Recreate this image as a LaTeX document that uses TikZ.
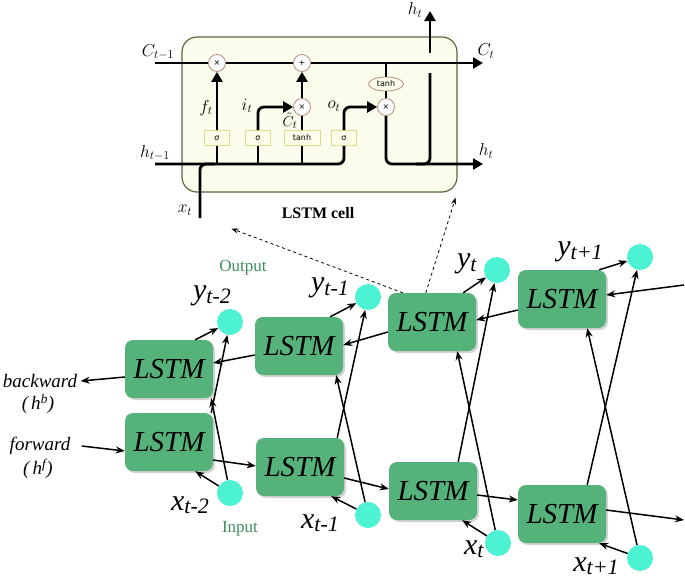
\documentclass[tikz,border=0pt]{standalone}
\usepackage{fontspec}
\setmainfont{Liberation Serif}
\newfontfamily\gatefont{DejaVu Sans}
\usetikzlibrary{arrows.meta, positioning, shapes.geometric, calc, shadows}
\definecolor{lstmcol}{HTML}{54B27A}
\definecolor{iocol}{HTML}{4CF2D2}
\definecolor{iotext}{HTML}{3E8E62}
\definecolor{cellfill}{HTML}{FCFCEC}
\definecolor{celldraw}{HTML}{56683C}
\definecolor{gatedraw}{HTML}{D8DC8C}
\definecolor{gatefill}{HTML}{FDFDEA}
\definecolor{opdraw}{HTML}{B48C7E}

\newcommand{\seqlab}[2]{\textit{#1}\raisebox{-0.25ex}{\fontsize{22}{22}\selectfont\textit{#2}}}

\begin{document}
\begin{tikzpicture}[
    x=1pt, y=-1pt,
    >={Stealth[length=9pt, width=7pt]},
    lstm/.style={
        fill=lstmcol, rounded corners=8pt, minimum width=88pt, minimum height=58pt,
        font=\fontsize{29}{30}\selectfont\itshape,
        drop shadow={shadow xshift=2pt, shadow yshift=-2pt, opacity=0.35}
    },
    iodot/.style={circle, fill=iocol, minimum size=26pt, inner sep=0pt},
    seq/.style={font=\fontsize{30}{32}\selectfont, inner sep=0pt},
    iolab/.style={font=\fontsize{17}{17}\selectfont, text=iotext},
    dirlab/.style={font=\fontsize{19}{19}\selectfont\itshape},
    link/.style={->, line width=1.5pt},
    zoomlink/.style={-{Stealth[length=7pt, width=5pt]}, dashed, line width=0.8pt},
    gate/.style={
        draw=gatedraw, fill=gatefill, line width=0.8pt, minimum width=25pt,
        minimum height=15pt, inner sep=0pt, font=\gatefont\fontsize{8}{8}\selectfont
    },
    op/.style={
        circle, draw=opdraw, fill=white, line width=0.8pt, minimum size=17pt,
        inner sep=0pt, font=\gatefont\fontsize{8}{8}\selectfont
    },
    flow/.style={line width=2.8pt, rounded corners=6pt},
    flowarr/.style={flow, -{Triangle[length=10pt, width=11pt]}},
    cellmath/.style={font=\fontsize{18}{18}\selectfont, inner sep=1pt},
]
\useasboundingbox (0,0) rectangle (685,582);

% ── LSTM cell ──
\node[draw=celldraw, fill=cellfill, line width=1.2pt, rounded corners=15pt,
      minimum width=275pt, minimum height=155pt] (cell) at (319.5,114.5) {};

\node[op] (mulf) at (217,63)  {×};
\node[op] (addc) at (302,63)  {+};
\node[op] (muli) at (302,107) {×};
\node[op] (mulo) at (386,107) {×};
\node[ellipse, draw=opdraw, fill=cellfill, line width=0.8pt, minimum width=35pt,
      minimum height=14pt, inner sep=0pt, font=\gatefont\fontsize{8}{8}\selectfont]
      (tanhc) at (386,84) {tanh};

\node[gate] (sigf) at (217,138) {σ};
\node[gate] (sigi) at (258,138) {σ};
\node[gate, minimum width=36pt] (tanhi) at (302,138) {tanh};
\node[gate] (sigo) at (344,138) {σ};

\coordinate (cin)  at (155,63);
\coordinate (cout) at (483,63);
\coordinate (hin)  at (155,164);
\coordinate (hout) at (483,164);
\coordinate (xin)  at (200,218);
\coordinate (hup)  at (430,73);
\coordinate (hupa) at (430,53);
\coordinate (htop) at (430,11);

% cell state
\draw[flow] (cin) -- (mulf);
\draw[flow] (mulf) -- (addc);
\draw[flowarr] (addc) -- (cout);

% hidden input and gates
\draw[flow] (hin) -| (sigo);
\draw[flow] (xin) |- ($(xin |- hin)+(15,0)$);
\draw[flow] (sigf.south |- hin) -- (sigf);
\draw[flow] (sigi.south |- hin) -- (sigi);
\draw[flow] (tanhi.south |- hin) -- (tanhi);
\draw[flowarr] (sigf) -- (mulf);
\draw[flowarr] (sigi) |- (muli);
\draw[flow] (tanhi) -- (muli);
\draw[flowarr] (muli) -- (addc);
\draw[flowarr] (sigo) |- (mulo);

% hidden output
\draw[flow] (mulo |- cin) -- (tanhc);
\draw[flow] (tanhc) -- (mulo);
\draw[flowarr] (mulo) |- (hout);
\draw[flow] ($(hup |- hout)+(-14,0)$) -| (hup);
\draw[flowarr] (hupa) -- (htop);

% cell labels
\node[cellmath] (lcin)  at (158,52)  {$C_{t-1}$};
\node[cellmath] (lcout) at (486,51)  {$C_t$};
\node[cellmath] (lhin)  at (155,153) {$h_{t-1}$};
\node[cellmath] (lhout) at (486,151) {$h_t$};
\node[cellmath] (lhtop) at (415,10)  {$h_t$};
\node[cellmath] (lxt)   at (185,210) {$x_t$};
\node[cellmath] (lft)   at (206,108) {$f_t$};
\node[cellmath] (lit)   at (247,106) {$i_t$};
\node[cellmath, font=\fontsize{15}{15}\selectfont] (lct) at (290,121) {$\tilde{C}_t$};
\node[cellmath] (lot)   at (334,106) {$o_t$};
\node[font=\bfseries\fontsize{16}{16}\selectfont] (celltitle) at (318,213) {LSTM cell};

% ── Bidirectional layers ──
\node[lstm] (b1) at (169,369) {LSTM};
\node[lstm] (f1) at (169,442) {LSTM};
\node[lstm] (b2) at (299,346) {LSTM};
\node[lstm] (f2) at (300,467) {LSTM};
\node[lstm] (b3) at (432,322) {LSTM};
\node[lstm] (f3) at (433,491) {LSTM};
\node[lstm] (b4) at (562,299) {LSTM};
\node[lstm] (f4) at (562,514) {LSTM};

\node[iodot] (y1) at (230,322) {};
\node[iodot] (y2) at (368,297) {};
\node[iodot] (y3) at (497,270) {};
\node[iodot] (y4) at (640,257) {};
\node[iodot] (x1) at (230,493) {};
\node[iodot] (x2) at (368,515) {};
\node[iodot] (x3) at (498,543) {};
\node[iodot] (x4) at (640,558) {};

% ── Labels ──
\node[seq] (ly1) at (212,296) {\seqlab{y}{t-2}};
\node[seq] (ly2) at (330,288) {\seqlab{y}{t-1}};
\node[seq] (ly3) at (467,264) {\seqlab{y}{t}};
\node[seq] (ly4) at (580,252) {\seqlab{y}{t+1}};
\node[seq] (lx1) at (190,505) {\seqlab{x}{t-2}};
\node[seq] (lx2) at (320,523) {\seqlab{x}{t-1}};
\node[seq] (lx3) at (474,549) {\seqlab{x}{t}};
\node[seq] (lx4) at (596,566) {\seqlab{x}{t+1}};

\node[iolab] (outlab) at (243,268) {Output};
\node[iolab] (inlab)  at (240,529) {Input};

\node[dirlab] (bwlab) at (40,381) {backward};
\node[dirlab] (bwsym) at (38,404) {(\,h\textsuperscript{b})};
\node[dirlab] (fwlab) at (40,446) {forward};
\node[dirlab] (fwsym) at (38,469) {(\,h\textsuperscript{f})};

\coordinate (bin)  at (684,285);
\coordinate (fout) at (684,520);

% ── Recurrent arrows ──
\draw[link] ($(b1.west)+(0,8)$) -- (bwlab.east);
\draw[link] ($(b2.west)+(0,9)$) -- ($(b1.east)+(0,-6)$);
\draw[link] ($(b3.west)+(0,10)$) -- ($(b2.east)+(0,-1)$);
\draw[link] ($(b4.west)+(0,11)$) -- ($(b3.east)+(0,-2)$);
\draw[link] (bin) -- ($(b4.east)+(0,-4)$);

\draw[link] ($(fwlab.east)+(8,0)$) -- ($(f1.west)+(0,9)$);
\draw[link] ($(f1.east)+(0,18)$) -- ($(f2.west)+(0,-1)$);
\draw[link] ($(f2.east)+(0,11)$) -- ($(f3.west)+(0,-2)$);
\draw[link] ($(f3.east)+(0,4)$) -- ($(f4.west)+(0,-14)$);
\draw[link] ($(f4.east)+(0,-4)$) -- (fout);

% ── Outputs ──
\draw[link] ($(b1.north east)+(-18,0)$) -- (y1);
\draw[link] ($(b2.north east)+(-13,0)$) -- (y2);
\draw[link] ($(b3.north east)+(-13,0)$) -- (y3);
\draw[link] ($(b4.north east)+(-7,0)$)  -- (y4);
\draw[link] ($(f1.north east)+(-2,0)$)  -- (y1);
\draw[link] ($(f2.north east)+(-7,0)$)  -- (y2);
\draw[link] ($(f3.north east)+(-19,0)$) -- (y3);
\draw[link] ($(f4.north east)+(-19,0)$) -- (y4);

% ── Inputs ──
\draw[link] (x1) -- ($(b1.south east)+(-2,0)$);
\draw[link] (x2) -- ($(b2.south east)+(-7,0)$);
\draw[link] (x3) -- ($(b3.south east)+(-19,0)$);
\draw[link] (x4) -- ($(b4.south east)+(-19,0)$);
\draw[link] (x1) -- ($(f1.south east)+(-18,0)$);
\draw[link] (x2) -- ($(f2.south east)+(-13,0)$);
\draw[link] (x3) -- ($(f3.south east)+(-15,0)$);
\draw[link] (x4) -- ($(f4.south east)+(-7,0)$);

% ── Zoom to cell ──
\draw[zoomlink] ($(b3.north west)+(15,0)$) -- ($(cell.south west)+(50,36)$);
\draw[zoomlink] ($(b3.north west)+(38,0)$) -- ($(cell.south east)+(-2,5)$);

\end{tikzpicture}
\end{document}
